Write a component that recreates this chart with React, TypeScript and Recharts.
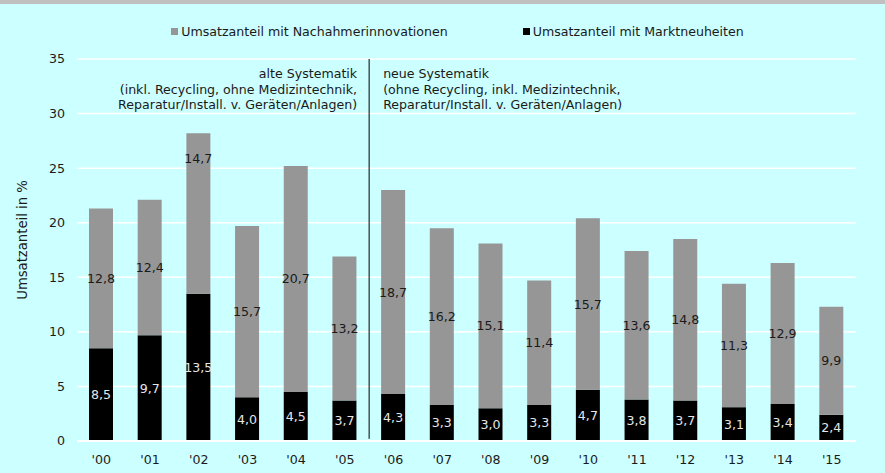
import React from 'react';
import {
  BarChart,
  Bar,
  XAxis,
  YAxis,
  CartesianGrid,
  Legend,
  ReferenceLine,
  LabelList,
} from 'recharts';

const years = ["'00", "'01", "'02", "'03", "'04", "'05", "'06", "'07", "'08", "'09", "'10", "'11", "'12", "'13", "'14", "'15"];
const marktneuheiten = [8.5, 9.7, 13.5, 4.0, 4.5, 3.7, 4.3, 3.3, 3.0, 3.3, 4.7, 3.8, 3.7, 3.1, 3.4, 2.4];
const nachahmer = [12.8, 12.4, 14.7, 15.7, 20.7, 13.2, 18.7, 16.2, 15.1, 11.4, 15.7, 13.6, 14.8, 11.3, 12.9, 9.9];
const yTicks = [0, 5, 10, 15, 20, 25, 30, 35];
const alteText = ['alte Systematik', '(inkl. Recycling, ohne Medizintechnik,', 'Reparatur/Install. v. Geräten/Anlagen)'];
const neueText = ['neue Systematik', '(ohne Recycling, inkl. Medizintechnik,', 'Reparatur/Install. v. Geräten/Anlagen)'];

const FONT = '"DejaVu Sans", Verdana, sans-serif';
const FS = 12.6;
const TEXT = '#1a1a1a';
const GRAY = '#969696';
// the '02 label for Nachahmerinnovationen sits higher in the original
const grayLabelShift: Record<number, number> = { 2: -55 };

const data = years.map((y, i) => ({
  idx: i,
  year: y,
  neu: marktneuheiten[i],
  nach: nachahmer[i],
}));

const fmt = (v: any) => Number(v).toFixed(1).replace('.', ',');

const SegLabel = (props: any) => {
  const { x, y, width, height, value, index, textColor, shiftMap } = props;
  const shift = (shiftMap && shiftMap[index]) || 0;
  return (
    <text
      x={x + width / 2}
      y={y + height / 2 + shift}
      textAnchor="middle"
      dominantBaseline="central"
      fill={textColor}
      fontSize={FS}
      fontFamily={FONT}
    >
      {fmt(value)}
    </text>
  );
};

const LegendContent = () => (
  <div style={{ display: 'flex', justifyContent: 'center', paddingLeft: 30, fontFamily: FONT, fontSize: FS, color: TEXT }}>
    <div style={{ display: 'flex', alignItems: 'center', marginRight: 75 }}>
      <span style={{ display: 'inline-block', width: 7, height: 7, background: GRAY, marginRight: 3 }} />
      Umsatzanteil mit Nachahmerinnovationen
    </div>
    <div style={{ display: 'flex', alignItems: 'center' }}>
      <span style={{ display: 'inline-block', width: 7, height: 7, background: '#000', marginRight: 3 }} />
      Umsatzanteil mit Marktneuheiten
    </div>
  </div>
);

const Annotation = (props: any) => {
  const { viewBox } = props;
  const x = viewBox.x;
  const top = viewBox.y;
  return (
    <g fontFamily={FONT} fontSize={FS} fill={TEXT}>
      {alteText.map((t, i) => (
        <text key={'a' + i} x={x - 12} y={top + 19 + i * 15.5} textAnchor="end">{t}</text>
      ))}
      {neueText.map((t, i) => (
        <text key={'n' + i} x={x + 14} y={top + 19 + i * 15.5} textAnchor="start">{t}</text>
      ))}
    </g>
  );
};

const YLabel = (props: any) => {
  const { viewBox } = props;
  const cx = 22;
  const cy = viewBox.y + viewBox.height / 2 - 10;
  return (
    <text
      x={cx}
      y={cy}
      transform={`rotate(-90, ${cx}, ${cy})`}
      textAnchor="middle"
      dominantBaseline="central"
      fontFamily={FONT}
      fontSize={13.2}
      fill={TEXT}
    >
      Umsatzanteil in %
    </text>
  );
};

export default function App() {
  return (
    <div style={{ position: 'absolute', left: 0, top: 0, width: 885, height: 473, background: '#ccffff', borderTop: '4px solid #c0c0c0', boxSizing: 'border-box' }}>
      <BarChart
        width={885}
        height={469}
        data={data}
        margin={{ top: 40, right: 29, left: 0, bottom: 0 }}
        barSize={24}
        style={{ fontFamily: FONT }}
      >
        <CartesianGrid horizontal vertical={false} stroke="#ffffff" strokeWidth={1.5} />
        <XAxis
          dataKey="idx"
          type="number"
          domain={[-0.5, 15.5]}
          ticks={data.map((d) => d.idx)}
          tickFormatter={(v) => years[v]}
          interval={0}
          height={32}
          axisLine={{ stroke: '#ffffff', strokeWidth: 2 }}
          tickLine={false}
          tickMargin={8}
          tick={{ fill: TEXT, fontSize: FS, fontFamily: FONT }}
        />
        <YAxis
          domain={[0, 35]}
          ticks={yTicks}
          width={77}
          axisLine={false}
          tickLine={false}
          tickMargin={6}
          tick={{ fill: TEXT, fontSize: FS, fontFamily: FONT }}
          label={<YLabel />}
        />
        <Legend verticalAlign="top" content={<LegendContent />} wrapperStyle={{ top: 20, left: 0, width: 885 }} />
        <Bar dataKey="neu" stackId="a" fill="#000000" isAnimationActive={false} legendType="none">
          <LabelList dataKey="neu" content={<SegLabel textColor="#e6e6e6" />} />
        </Bar>
        <Bar dataKey="nach" stackId="a" fill={GRAY} isAnimationActive={false} legendType="none">
          <LabelList dataKey="nach" content={<SegLabel textColor={TEXT} shiftMap={grayLabelShift} />} />
        </Bar>
        <ReferenceLine
          segment={[{ x: 5.5, y: 35 }, { x: 5.5, y: 0.2 }]}
          stroke="#000000"
          strokeWidth={1}
          ifOverflow="visible"
          label={<Annotation />}
        />
      </BarChart>
    </div>
  );
}
